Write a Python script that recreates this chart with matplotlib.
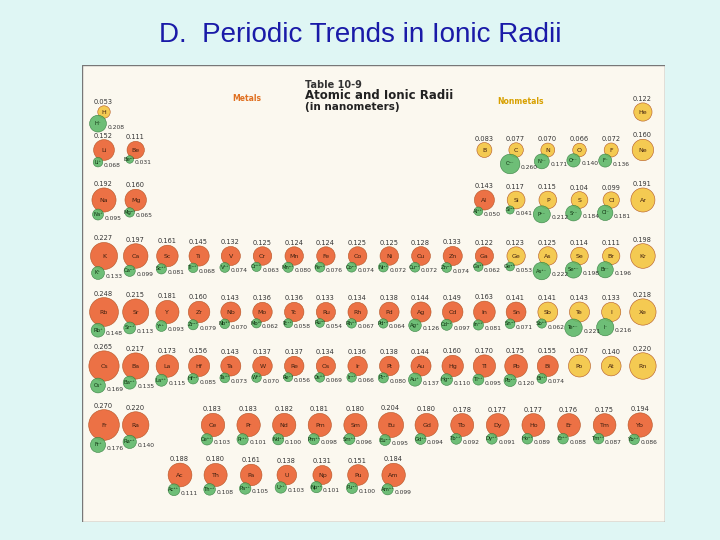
import matplotlib.pyplot as plt
from matplotlib.patches import Circle, Rectangle

# atomic radii (nm) per period, column index 0..17
p1 = [("H", 0, 0.053), ("He", 17, 0.122)]
p2 = [("Li", 0, 0.152), ("Be", 1, 0.111), ("B", 12, 0.083), ("C", 13, 0.077),
      ("N", 14, 0.070), ("O", 15, 0.066), ("F", 16, 0.072), ("Ne", 17, 0.160)]
p3 = [("Na", 0, 0.192), ("Mg", 1, 0.160), ("Al", 12, 0.143), ("Si", 13, 0.117),
      ("P", 14, 0.115), ("S", 15, 0.104), ("Cl", 16, 0.099), ("Ar", 17, 0.191)]
p4_sym = ["K", "Ca", "Sc", "Ti", "V", "Cr", "Mn", "Fe", "Co", "Ni", "Cu", "Zn",
          "Ga", "Ge", "As", "Se", "Br", "Kr"]
p4_rad = [0.227, 0.197, 0.161, 0.145, 0.132, 0.125, 0.124, 0.124, 0.125, 0.125,
          0.128, 0.133, 0.122, 0.123, 0.125, 0.114, 0.111, 0.198]
p5_sym = ["Rb", "Sr", "Y", "Zr", "Nb", "Mo", "Tc", "Ru", "Rh", "Pd", "Ag", "Cd",
          "In", "Sn", "Sb", "Te", "I", "Xe"]
p5_rad = [0.248, 0.215, 0.181, 0.160, 0.143, 0.136, 0.136, 0.133, 0.134, 0.138,
          0.144, 0.149, 0.163, 0.141, 0.141, 0.143, 0.133, 0.218]
p6_sym = ["Cs", "Ba", "La", "Hf", "Ta", "W", "Re", "Os", "Ir", "Pt", "Au", "Hg",
          "Tl", "Pb", "Bi", "Po", "At", "Rn"]
p6_rad = [0.265, 0.217, 0.173, 0.156, 0.143, 0.137, 0.137, 0.134, 0.136, 0.138,
          0.144, 0.160, 0.170, 0.175, 0.155, 0.167, 0.14, 0.22]
p7 = [("Fr", 0, 0.27), ("Ra", 1, 0.220)]
lan_sym = ["Ce", "Pr", "Nd", "Pm", "Sm", "Eu", "Gd", "Tb", "Dy", "Ho", "Er", "Tm", "Yb"]
lan_rad = [0.183, 0.183, 0.182, 0.181, 0.180, 0.204, 0.180, 0.178, 0.177, 0.177,
           0.176, 0.175, 0.194]
act_sym = ["Ac", "Th", "Pa", "U", "Np", "Pu", "Am"]
act_rad = [0.188, 0.180, 0.161, 0.138, 0.131, 0.151, 0.184]

# ions: symbol -> (label, radius)
ions = {"H": ("H⁻", 0.208), "Li": ("Li⁺", 0.068), "Be": ("Be²⁺", 0.031),
        "C": ("C⁴⁻", 0.260), "N": ("N³⁻", 0.171), "O": ("O²⁻", 0.140), "F": ("F⁻", 0.136),
        "Na": ("Na⁺", 0.095), "Mg": ("Mg²⁺", 0.065), "Al": ("Al³⁺", 0.050),
        "Si": ("Si⁴⁺", 0.041), "P": ("P³⁻", 0.212), "S": ("S²⁻", 0.184), "Cl": ("Cl⁻", 0.181),
        "K": ("K⁺", 0.133), "Ca": ("Ca²⁺", 0.099), "Sc": ("Sc³⁺", 0.081), "Ti": ("Ti⁴⁺", 0.068),
        "V": ("V³⁺", 0.074), "Cr": ("Cr³⁺", 0.063), "Mn": ("Mn²⁺", 0.080), "Fe": ("Fe²⁺", 0.076),
        "Co": ("Co²⁺", 0.074), "Ni": ("Ni²⁺", 0.072), "Cu": ("Cu²⁺", 0.072), "Zn": ("Zn²⁺", 0.074),
        "Ga": ("Ga³⁺", 0.062), "Ge": ("Ge⁴⁺", 0.053), "As": ("As³⁻", 0.222), "Se": ("Se²⁻", 0.198),
        "Br": ("Br⁻", 0.196),
        "Rb": ("Rb⁺", 0.148), "Sr": ("Sr²⁺", 0.113), "Y": ("Y³⁺", 0.093), "Zr": ("Zr⁴⁺", 0.079),
        "Nb": ("Nb⁵⁺", 0.070), "Mo": ("Mo⁶⁺", 0.062), "Tc": ("Tc⁷⁺", 0.058), "Ru": ("Ru⁴⁺", 0.054),
        "Rh": ("Rh³⁺", 0.067), "Pd": ("Pd²⁺", 0.064), "Ag": ("Ag⁺", 0.126), "Cd": ("Cd²⁺", 0.097),
        "In": ("In³⁺", 0.081), "Sn": ("Sn⁴⁺", 0.071), "Sb": ("Sb³⁺", 0.062), "Te": ("Te²⁻", 0.221),
        "I": ("I⁻", 0.216),
        "Cs": ("Cs⁺", 0.169), "Ba": ("Ba²⁺", 0.135), "La": ("La³⁺", 0.115), "Hf": ("Hf⁴⁺", 0.085),
        "Ta": ("Ta⁵⁺", 0.073), "W": ("W⁶⁺", 0.070), "Re": ("Re⁷⁺", 0.056), "Os": ("Os⁶⁺", 0.069),
        "Ir": ("Ir⁴⁺", 0.066), "Pt": ("Pt²⁺", 0.080), "Au": ("Au⁺", 0.137), "Hg": ("Hg²⁺", 0.110),
        "Tl": ("Tl³⁺", 0.095), "Pb": ("Pb²⁺", 0.120), "Bi": ("Bi³⁺", 0.074),
        "Fr": ("Fr⁺", 0.176), "Ra": ("Ra²⁺", 0.140),
        "Ce": ("Ce³⁺", 0.103), "Pr": ("Pr³⁺", 0.101), "Nd": ("Nd³⁺", 0.100), "Pm": ("Pm³⁺", 0.098),
        "Sm": ("Sm³⁺", 0.096), "Eu": ("Eu²⁺", 0.095), "Gd": ("Gd³⁺", 0.094), "Tb": ("Tb³⁺", 0.092),
        "Dy": ("Dy³⁺", 0.091), "Ho": ("Ho³⁺", 0.089), "Er": ("Er³⁺", 0.088), "Tm": ("Tm³⁺", 0.087),
        "Yb": ("Yb³⁺", 0.086),
        "Ac": ("Ac³⁺", 0.111), "Th": ("Th⁴⁺", 0.108), "Pa": ("Pa⁴⁺", 0.105), "U": ("U⁴⁺", 0.103),
        "Np": ("Np⁴⁺", 0.101), "Pu": ("Pu⁴⁺", 0.100), "Am": ("Am³⁺", 0.099)}

nonmetals = {"H", "He", "B", "C", "N", "O", "F", "Ne", "Si", "P", "S", "Cl", "Ar",
             "As", "Se", "Br", "Kr", "Te", "I", "Xe", "At", "Rn", "Ge", "Sb", "Po"}

col_x = [104 + 31.7 * i for i in range(18)]
row_y = [112, 150, 200, 256, 312, 366, 425]

fig = plt.figure(figsize=(7.2, 5.4), dpi=100)
fig.patch.set_facecolor("#dff6f4")
ax = fig.add_axes([82 / 720, 1 - 522 / 540, 583 / 720, 457 / 540])
ax.set_xlim(82, 665)
ax.set_ylim(522, 65)
ax.axis("off")
ax.add_patch(Rectangle((82, 65), 583, 457, facecolor="#fbf8ef", edgecolor="#777777", lw=1))

fig.text(0.5, 0.935, "D.  Periodic Trends in Ionic Radii", ha="center", va="center",
         color="#1a1aa8", fontsize=20, family="Liberation Sans")

ax.text(305, 88, "Table 10-9", fontsize=7, weight="bold", color="#333333")
ax.text(305, 99, "Atomic and Ionic Radii", fontsize=8.5, weight="bold", color="#222222")
ax.text(305, 110, "(in nanometers)", fontsize=7.5, weight="bold", color="#222222")
ax.text(232, 101, "Metals", fontsize=5.5, weight="bold", color="#e07020")
ax.text(497, 104, "Nonmetals", fontsize=5.5, weight="bold", color="#d8a000")


def draw(sym, x, y, r):
    nm = sym in nonmetals
    face = "#f4c84a" if nm else "#ec6a3c"
    rad = 4 + r * 42
    ax.add_patch(Circle((x, y), rad, facecolor=face, edgecolor="#b05020", lw=0.4, alpha=0.95))
    ax.text(x, y, sym, ha="center", va="center", fontsize=4.5, color="#402010")
    ax.text(x - 10, y - rad - 1, f"{r:.3f}", fontsize=4.8, color="#333333", va="bottom")
    if sym in ions:
        lab, ir = ions[sym]
        irad = 3 + ir * 26
        ix, iy = x - 6, y + rad + irad - 3
        ax.add_patch(Circle((ix, iy), irad, facecolor="#5fb86a", edgecolor="#2f7a3a",
                            lw=0.4, alpha=0.9))
        ax.text(ix, iy, lab, ha="center", va="center", fontsize=3.8, color="#103010")
        ax.text(ix + irad + 1, iy + 1, f"{ir:.3f}", fontsize=4.3, color="#333333",
                va="top", ha="left")


for row, items in ((0, p1), (1, p2), (2, p3), (6, p7)):
    for sym, c, r in items:
        draw(sym, col_x[c], row_y[row], r)
for row, syms, rads in ((3, p4_sym, p4_rad), (4, p5_sym, p5_rad), (5, p6_sym, p6_rad)):
    for c, (sym, r) in enumerate(zip(syms, rads)):
        draw(sym, col_x[c], row_y[row], r)
for i, (sym, r) in enumerate(zip(lan_sym, lan_rad)):
    draw(sym, 213 + 35.6 * i, 425, r)
for i, (sym, r) in enumerate(zip(act_sym, act_rad)):
    draw(sym, 180 + 35.6 * i, 475, r)

fig.savefig("out.png", dpi=100, facecolor=fig.get_facecolor())
